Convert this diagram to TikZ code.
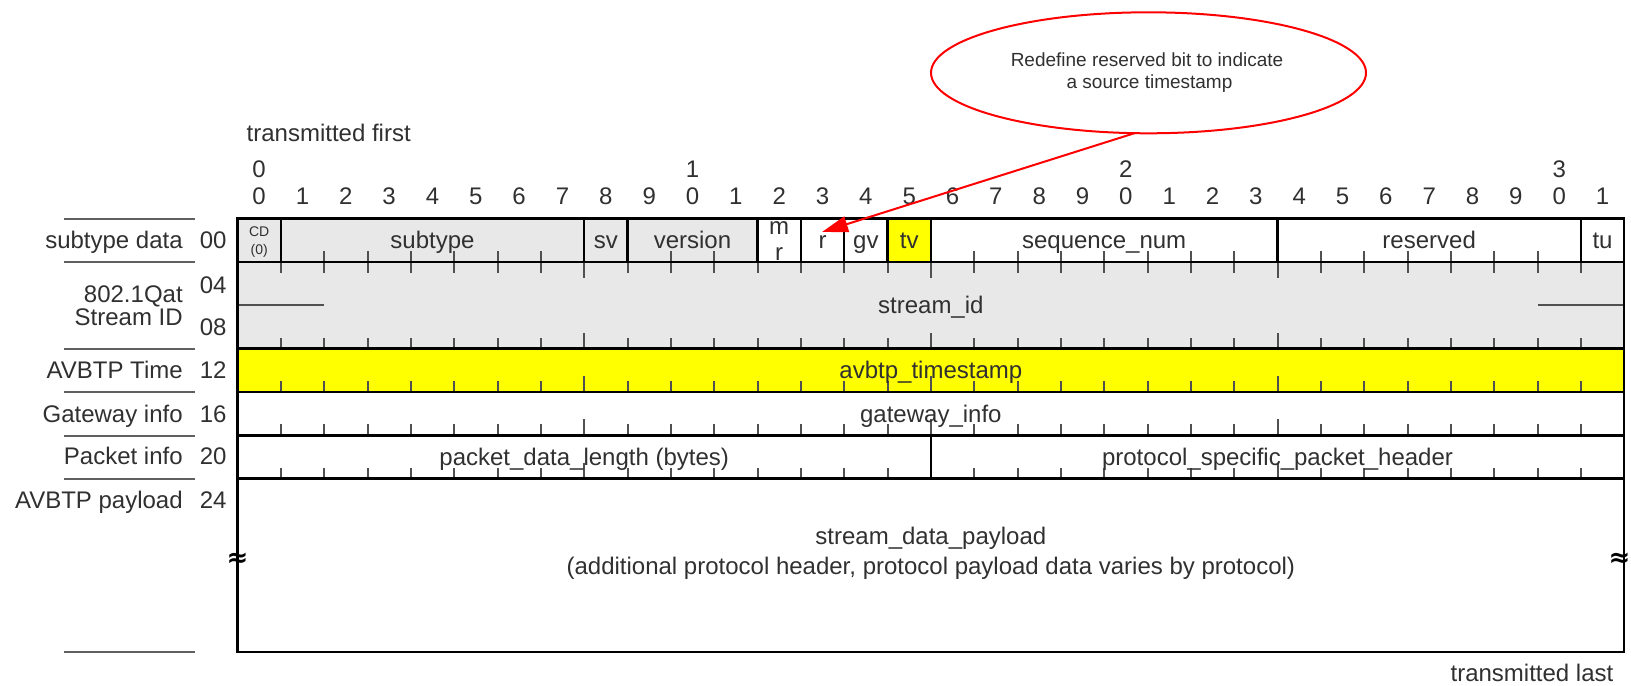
\documentclass[tikz,border=0pt]{standalone}
\usepackage{fontspec}
\setmainfont{Liberation Sans}
\newfontfamily\djv{DejaVu Sans}
\usetikzlibrary{arrows.meta,shapes.geometric}
\definecolor{fgray}{HTML}{E8E8E8}
\definecolor{fyel}{HTML}{FFFF00}
\definecolor{txtc}{HTML}{303030}
\definecolor{tickc}{HTML}{505050}
\definecolor{sepc}{HTML}{606060}
\newcommand\bitx[1]{237.5+43.333*(#1)}
\begin{document}
\begin{tikzpicture}[x=0.5pt,y=-0.5pt,
  every node/.style={inner sep=0pt,outer sep=0pt,text=txtc,font=\fontsize{12pt}{14pt}\selectfont},
  lbl/.style={anchor=base},
  rlbl/.style={anchor=base east},
  tk/.style={draw=tickc,line width=1pt},
  bd/.style={draw=black,line width=1.3pt},
  sep/.style={draw=sepc,line width=1pt},
  small/.style={anchor=base,font=\fontsize{7pt}{8pt}\selectfont},
  note/.style={anchor=base,font=\fontsize{9.5pt}{11pt}\selectfont},
  brk/.style={text=black,font=\djv\bfseries\fontsize{13pt}{13pt}\selectfont}]
\useasboundingbox (0,0) rectangle (1631,685);

% ---------- grid (bit units) ----------
\begin{scope}[shift={(118.75pt,-109.35pt)},x=21.6667pt,y=-21.6667pt]
  \fill[fgray] (0,0) rectangle (12,1);
  \fill[fyel] (15,0) rectangle (16,1);
  \fill[fgray] (0,1) rectangle (32,3);
  \fill[fyel] (0,3) rectangle (32,4);
  % ticks, row 0 (upwards, inside fields)
  \foreach \b in {2,...,7,10,11,17,18,...,23,25,26,...,30}
    \draw[tk] (\b,1) -- ++(0,-0.254);
  % ticks at top of stream_id (downwards)
  \foreach \b in {1,...,31}{
    \pgfmathsetmacro\L{mod(\b,8)==0 ? 0.37 : 0.254}
    \draw[tk] (\b,1) -- ++(0,\L);}
  % ticks at bottom of rows (upwards)
  \foreach \r in {3,4,5}{
    \foreach \b in {1,...,31}{
      \pgfmathsetmacro\L{mod(\b,8)==0 ? 0.37 : 0.254}
      \draw[tk] (\b,\r) -- ++(0,-\L);}}
  \foreach \b in {1,...,15,17,18,...,31}{
    \pgfmathsetmacro\L{mod(\b,8)==0 ? 0.37 : 0.254}
    \draw[tk] (\b,6) -- ++(0,-\L);}
  % stream id break lines
  \draw[tk] (0,2) -- (2,2);
  \draw[tk] (30,2) -- (32,2);
  % borders
  \foreach \r in {1,3,4,5,6} \draw[bd] (0,\r) -- (32,\r);
  \foreach \b in {1,8,9,12,13,14,15,16,24,31} \draw[bd] (\b,0) -- (\b,1);
  \draw[bd] (16,5) -- (16,6);
  \draw[bd] (0,0) rectangle (32,10);
\end{scope}

% ---------- header ----------
\node[anchor=base west] (tfirst) at (246.7,141) {transmitted first};
\foreach \i/\t in {0/0,10/1,20/2,30/3}
  \node[lbl] (tens\i) at ({\bitx{\i+0.5}},177.5) {\t};
\foreach \i in {0,...,31}{
  \pgfmathtruncatemacro\u{mod(\i,10)}
  \node[lbl] (unit\i) at ({\bitx{\i+0.5}},204) {\u};}

% ---------- row 0 fields ----------
\node[small] (cd) at ({\bitx{0.5}},236.4) {CD};
\node[small] (cd0) at ({\bitx{0.5}},254.5) {(0)};
\node[lbl] (fsubtype) at ({\bitx{4.5}},248.5) {subtype};
\node[lbl] (fsv) at ({\bitx{8.5}},248.5) {sv};
\node[lbl] (fversion) at ({\bitx{10.5}},248.5) {version};
\node[lbl] (fm) at ({\bitx{12.5}},234) {m};
\node[lbl] (fmr) at ({\bitx{12.5}},260) {r};
\node[lbl] (fr) at ({\bitx{13.5}},248.5) {r};
\node[lbl] (fgv) at ({\bitx{14.5}},248.5) {gv};
\node[lbl] (ftv) at ({\bitx{15.5}},248.5) {tv};
\node[lbl] (fseq) at ({\bitx{20}},248.5) {sequence\_num};
\node[lbl] (fres) at ({\bitx{27.5}},248.5) {reserved};
\node[lbl] (ftu) at ({\bitx{31.5}},248.5) {tu};

% ---------- other fields ----------
\node[lbl] (fsid) at ({\bitx{16}},313.5) {stream\_id};
\node[lbl] (fts) at ({\bitx{16}},378.5) {avbtp\_timestamp};
\node[lbl] (fgw) at ({\bitx{16}},422) {gateway\_info};
\node[lbl] (fpdl) at ({\bitx{8}},465.5) {packet\_data\_length (bytes)};
\node[lbl] (fpsh) at ({\bitx{24}},465.5) {protocol\_specific\_packet\_header};
\node[lbl] (fpay1) at ({\bitx{16}},544) {stream\_data\_payload};
\node[lbl] (fpay2) at ({\bitx{16}},574) {(additional protocol header, protocol payload data varies by protocol)};
\node[brk] (brkl) at (237.5,560) {≈};
\node[brk] (brkr) at (1619.5,560) {≈};
\node[anchor=base east] (tlast) at (1613.3,681.5) {transmitted last};

% ---------- left labels ----------
\foreach \y in {218.7,262.3,349,392.3,435.7,479,652}
  \draw[sep] (64.3,\y) -- (195,\y);
\node[rlbl] (lsub) at (182.7,248.5) {subtype data};
\node[rlbl] (o00) at (226.5,248.5) {00};
\node[rlbl] (lq1) at (182.7,302) {802.1Qat};
\node[rlbl] (lq2) at (182.7,325) {Stream ID};
\node[rlbl] (o04) at (226.5,293.5) {04};
\node[rlbl] (o08) at (226.5,335) {08};
\node[rlbl] (ltime) at (182.7,378.5) {AVBTP Time};
\node[rlbl] (o12) at (226.5,378.5) {12};
\node[rlbl] (lgw) at (182.7,422) {Gateway info};
\node[rlbl] (o16) at (226.5,422) {16};
\node[rlbl] (lpk) at (182.7,464) {Packet info};
\node[rlbl] (o20) at (226.5,464) {20};
\node[rlbl] (lpay) at (182.7,508) {AVBTP payload};
\node[rlbl] (o24) at (226.5,508) {24};

% ---------- callout ----------
\node[ellipse,draw=red,line width=1pt,minimum width=217.5pt,minimum height=60.5pt] (ell) at (1148.5,72.8) {};
\node[note] (n1) at (1147,66) {Redefine reserved bit to indicate};
\node[note] (n2) at (1149.5,88.5) {a source timestamp};
\coordinate (rtip) at (822,232);
\draw[red,line width=1pt,-{Triangle[length=13pt,width=8pt]}] (ell.257) -- (rtip);
\end{tikzpicture}
\end{document}
